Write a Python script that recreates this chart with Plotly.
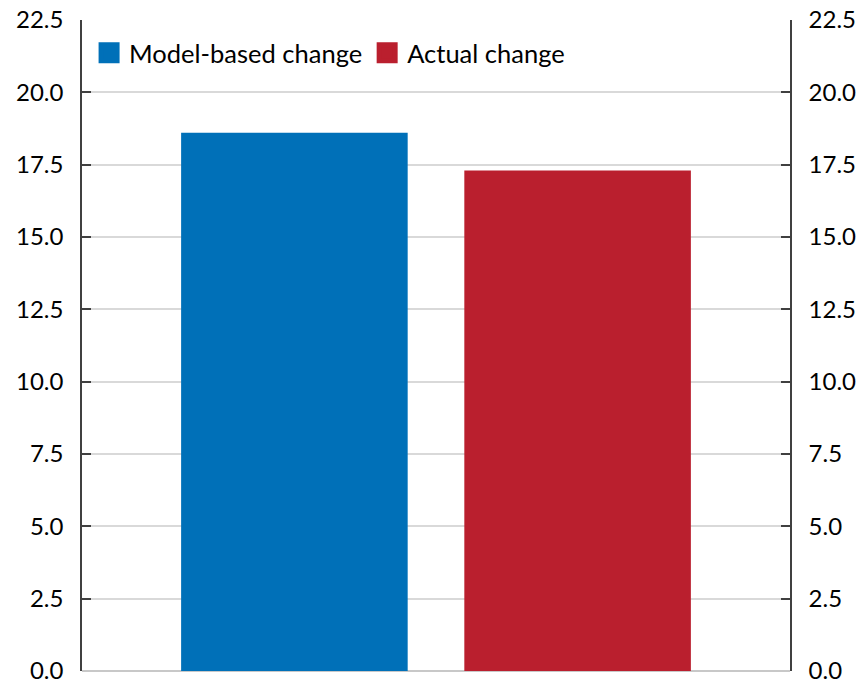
import plotly.graph_objects as go

category = ["Change"]
series_names = ["Model-based change", "Actual change"]
series_values = [[18.6], [17.3]]
series_colors = ["#0070B8", "#BA1F2E"]
tick_vals = [0, 2.5, 5, 7.5, 10, 12.5, 15, 17.5, 20, 22.5]
tick_text = ["0.0", "2.5", "5.0", "7.5", "10.0", "12.5", "15.0", "17.5", "20.0", "22.5"]

FONT = "Lato"
fig = go.Figure()
for name, vals, col in zip(series_names, series_values, series_colors):
    fig.add_trace(go.Bar(x=category, y=vals, name=name, marker_color=col,
                         marker_line_width=0, showlegend=False))
for name, col in zip(series_names, series_colors):
    fig.add_trace(go.Scatter(x=[None], y=[None], mode="markers", name=name,
                             marker=dict(symbol="square", size=16, color=col,
                                         line=dict(color=col, width=5)),
                             showlegend=True))
# invisible trace for the right axis
fig.add_trace(go.Scatter(x=category, y=[None], yaxis="y2", showlegend=False,
                         hoverinfo="skip"))

yax = dict(range=[0, 22.5], tickvals=tick_vals, ticktext=tick_text,
           ticks="inside", ticklen=9, tickcolor="#404040", tickwidth=1.5,
           showline=True, linecolor="#404040", linewidth=1.5,
           showgrid=True, gridcolor="#d9d9d9", gridwidth=1.5,
           zeroline=True, zerolinecolor="#c8c8c8", zerolinewidth=1.5,
           tickfont=dict(family=FONT, size=24, color="black"),
           ticklabelstandoff=12, ticklabeloverflow="allow",
           automargin=False, fixedrange=True)

fig.update_layout(
    width=864, height=684,
    margin=dict(l=82, r=74, t=20, b=13, autoexpand=False),
    plot_bgcolor="white", paper_bgcolor="white",
    barmode="group", bargap=0.2, bargroupgap=0.2,
    xaxis=dict(showticklabels=False, ticks="", showline=False, showgrid=False,
               zeroline=False, automargin=False),
    yaxis=yax,
    yaxis2=dict(yax, overlaying="y", side="right", matches="y"),
    legend=dict(orientation="h", x=0.01, y=0.985, xanchor="left", yanchor="top",
                bgcolor="rgba(0,0,0,0)", font=dict(family=FONT, size=25.5, color="black"),
                itemwidth=30, tracegroupgap=0),
    font=dict(family=FONT),
)
fig.write_html("out.html")
